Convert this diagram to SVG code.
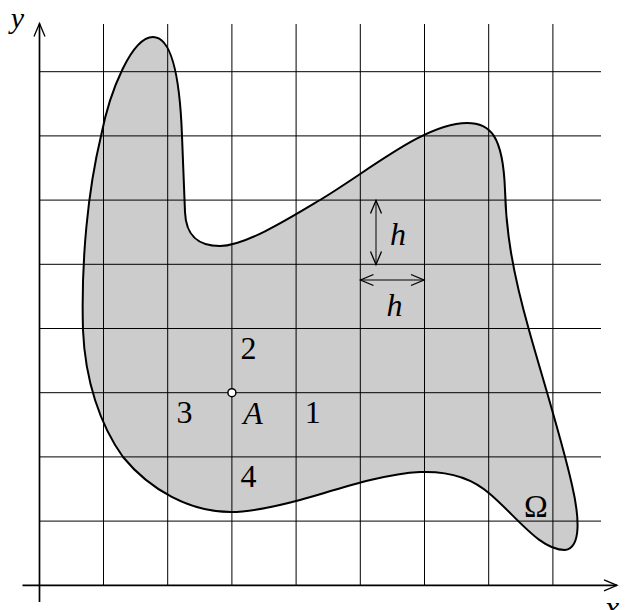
<svg xmlns="http://www.w3.org/2000/svg" width="625" height="610" viewBox="0 0 625 610">
<style>
.grid{stroke:#000;stroke-width:1;fill:none}
.axis{stroke:#000;stroke-width:1.7;fill:none}
.dim{stroke:#000;stroke-width:1;fill:none}
.lbl{font-family:"Liberation Serif","DejaVu Serif",serif;font-size:32px;fill:#000;text-anchor:middle}
.it{font-style:italic}
</style>
<defs>
<marker id="arrow" markerUnits="userSpaceOnUse" markerWidth="16" markerHeight="14" refX="0" refY="0" orient="auto-start-reverse" overflow="visible">
<path d="M-13,-5.5 L0,0 L-13,5.5" fill="none" stroke="#000" stroke-width="1.3"/>
</marker>
</defs>
<rect width="625" height="610" fill="#fff"/>
<g id="region">
<path id="region-fill" d="M153,37 C172,37 180,80 182,136 C183,165 184,190 185,212 C186,238 200,246 220,246 C245,246 290,218 320,200 C370,170 425,123 467,123 C490,123 503,135 505,190 C506,230 512,270 529,330 C540,370 562,440 572,485 C579,515 582,548 565,550 C540,550 518,518 490,494 C470,476 445,471 420,472 C380,474 330,492 300,500 C270,508 250,512 231,512 C190,512 150,490 123,457 C100,425 85,380 83,330 C81,260 88,190 101,136 C110,90 132,37 153,37 Z" fill="#cccccc" stroke="none"/>
</g>
<g id="grid" class="grid">
<path d="M103.5,24V585 M167.7,24V585 M231.9,24V585 M296.1,24V585 M360.3,24V585 M424.5,24V585 M488.7,24V585 M552.9,24V585"/>
<path d="M39,521.1H601 M39,456.9H601 M39,392.7H601 M39,328.5H601 M39,264.3H601 M39,200.1H601 M39,135.9H601 M39,71.7H601"/>
</g>
<g id="region-outline">
<path d="M153,37 C172,37 180,80 182,136 C183,165 184,190 185,212 C186,238 200,246 220,246 C245,246 290,218 320,200 C370,170 425,123 467,123 C490,123 503,135 505,190 C506,230 512,270 529,330 C540,370 562,440 572,485 C579,515 582,548 565,550 C540,550 518,518 490,494 C470,476 445,471 420,472 C380,474 330,492 300,500 C270,508 250,512 231,512 C190,512 150,490 123,457 C100,425 85,380 83,330 C81,260 88,190 101,136 C110,90 132,37 153,37 Z" fill="none" stroke="#000" stroke-width="2"/>
<text class="lbl" x="536" y="517">Ω</text>
</g>
<g id="connectors">
<path id="x-axis" class="axis" d="M22.5,585.3H617" marker-end="url(#arrow)"/>
<path id="y-axis" class="axis" d="M39.5,602V23.5" marker-end="url(#arrow)"/>
<path id="h-vertical" class="dim" d="M376,200.5V264.5" marker-start="url(#arrow)" marker-end="url(#arrow)"/>
<path id="h-horizontal" class="dim" d="M360.5,280H424" marker-start="url(#arrow)" marker-end="url(#arrow)"/>
</g>
<g id="axis-labels">
<text class="lbl it" x="17.5" y="28" style="font-size:30px">y</text>
<text class="lbl it" x="612" y="618">x</text>
</g>
<g id="h-labels">
<text class="lbl it" x="398" y="245">h</text>
<text class="lbl it" x="394.5" y="316">h</text>
</g>
<g id="point-A">
<circle cx="231.9" cy="392.7" r="4" fill="#fff" stroke="#000" stroke-width="1.5"/>
<text class="lbl it" x="253" y="424">A</text>
</g>
<g id="neighbour-1"><text class="lbl" x="312.7" y="423">1</text></g>
<g id="neighbour-2"><text class="lbl" x="248.5" y="359">2</text></g>
<g id="neighbour-3"><text class="lbl" x="184.5" y="423">3</text></g>
<g id="neighbour-4"><text class="lbl" x="248.5" y="487">4</text></g>
</svg>
